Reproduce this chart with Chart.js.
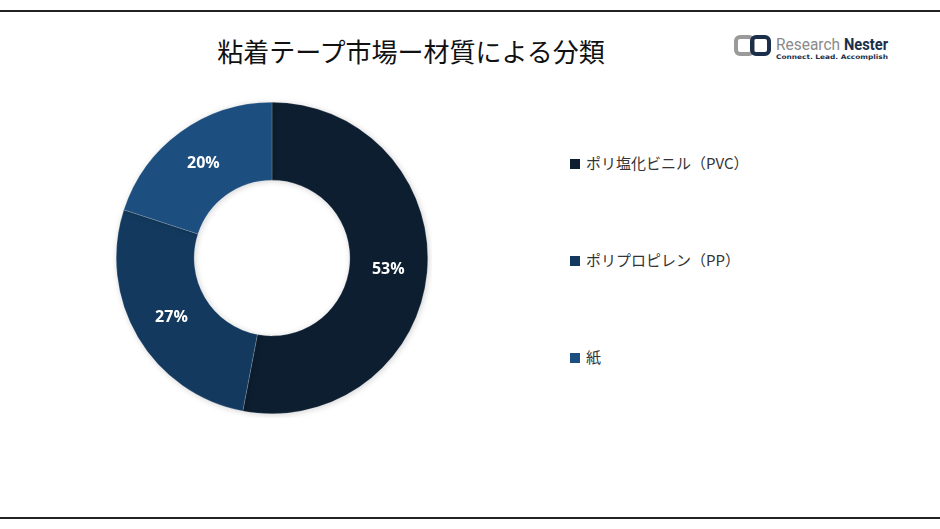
<!DOCTYPE html>
<html>
<head>
<meta charset="utf-8">
<script src="https://cdn.jsdelivr.net/npm/chart.js@4.4.0/dist/chart.umd.min.js"></script>
<style>
  body { margin: 0; width: 940px; height: 529px; background: #fff; position: relative; overflow: hidden;
         font-family: "Noto Sans CJK JP", "Noto Sans", sans-serif; }
  .rule { position: absolute; left: 0; width: 940px; height: 2px; background: #222; }
  #title { position: absolute; top: 32px; left: 0; width: 822px; text-align: center;
           font-size: 26px; color: #111; }
  #chartBox { position: absolute; left: 112px; top: 98px; width: 320px; height: 320px; }
  #legend { position: absolute; left: 570px; top: 152px; }
  .legend-item { height: 97px; font-size: 15px; color: #333; display: flex; align-items: flex-start; }
  .legend-item span.box { width: 10px; height: 10px; margin: 7px 6px 0 0; display: inline-block; }
  #logo { position: absolute; left: 733px; top: 31px; }
</style>
</head>
<body>
<div class="rule" style="top:10px"></div>
<div class="rule" style="top:517px"></div>
<div id="title">粘着テープ市場ー材質による分類</div>
<div id="logo">
  <svg width="160" height="30">
    <rect x="3" y="6" width="17" height="17" rx="4" fill="none" stroke="#9a9a9a" stroke-width="4"/>
    <rect x="19" y="6" width="17" height="17" rx="4" fill="none" stroke="#1b2f4a" stroke-width="4"/>
    <text x="43" y="19" font-family="Roboto, sans-serif" font-size="17" fill="#8a8a8a"
          textLength="64" lengthAdjust="spacingAndGlyphs">Research</text>
    <text x="111" y="19" font-family="Roboto, sans-serif" font-size="17" font-weight="bold" fill="#1b2f4a"
          textLength="44" lengthAdjust="spacingAndGlyphs">Nester</text>
    <text x="43" y="28" font-family="DejaVu Sans, sans-serif" font-size="6.3" font-weight="bold" fill="#1b2f4a"
          textLength="112" lengthAdjust="spacingAndGlyphs">Connect. Lead. Accomplish</text>
  </svg>
</div>
<div id="chartBox"><canvas id="donutChart"></canvas></div>
<div id="legend"></div>

<script>
// Chart data
const categories = ['ポリ塩化ビニル（PVC）', 'ポリプロピレン（PP）', '紙'];
const shares = [53, 27, 20];
const sliceColors = ['#0c1e30', '#133a5e', '#1d4e80'];

// Percentage labels inside each slice
const sliceLabels = {
    id: 'sliceLabels',
    afterDatasetsDraw(chart) {
        const ctx = chart.ctx;
        const meta = chart.getDatasetMeta(0);
        ctx.save();
        ctx.fillStyle = '#ffffff';
        ctx.font = 'bold 16px "Open Sans", "Noto Sans", sans-serif';
        ctx.textAlign = 'center';
        ctx.textBaseline = 'middle';
        meta.data.forEach((arc, i) => {
            const p = arc.tooltipPosition();
            ctx.fillText(shares[i] + '%', p.x, p.y);
        });
        ctx.restore();
    }
};

// Soft shadow behind the ring
const ringShadow = {
    id: 'ringShadow',
    beforeDatasetsDraw(chart) {
        chart.ctx.save();
        chart.ctx.shadowColor = 'rgba(0,0,0,0.18)';
        chart.ctx.shadowBlur = 6;
        chart.ctx.shadowOffsetX = 1;
        chart.ctx.shadowOffsetY = 1;
    },
    afterDatasetsDraw(chart) {
        chart.ctx.restore();
    }
};

function initializeChart() {
    const ctx = document.getElementById('donutChart').getContext('2d');
    new Chart(ctx, {
        type: 'doughnut',
        data: {
            labels: categories,
            datasets: [{
                data: shares,
                backgroundColor: sliceColors,
                borderColor: 'rgba(255,255,255,0.35)',
                borderWidth: 0.5
            }]
        },
        options: {
            responsive: true,
            maintainAspectRatio: false,
            animation: false,
            cutout: '50%',
            layout: { padding: 4 },
            plugins: {
                legend: { display: false },
                tooltip: { enabled: false }
            }
        },
        plugins: [ringShadow, sliceLabels]
    });
}

function buildLegend() {
    document.getElementById('legend').innerHTML = categories.map((name, i) => `
        <div class="legend-item"><span class="box" style="background:${sliceColors[i]}"></span>${name}</div>
    `).join('');
}

document.addEventListener('DOMContentLoaded', () => {
    initializeChart();
    buildLegend();
});
</script>
</body>
</html>
